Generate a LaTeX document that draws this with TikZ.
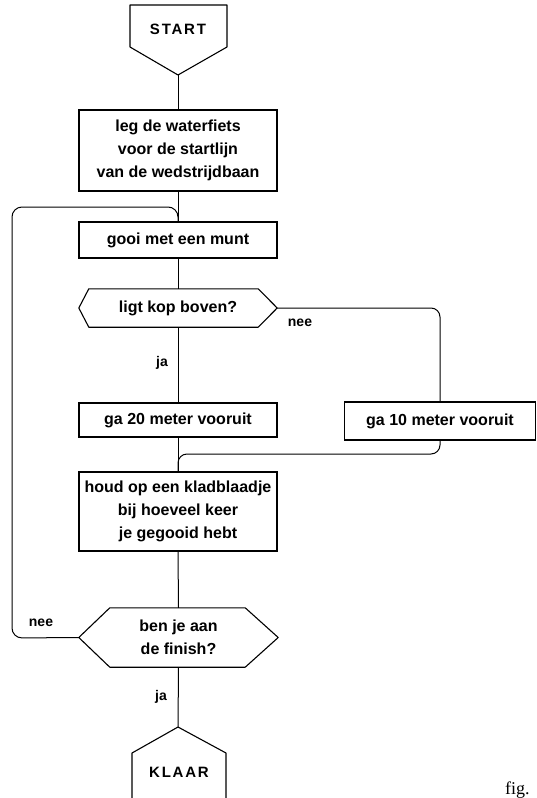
\documentclass[tikz,border=0pt]{standalone}
\usepackage{fontspec}
\setmainfont{Liberation Sans}
\newfontfamily\figfont{Liberation Serif}
\newfontfamily\capsfont[LetterSpace=12]{Liberation Sans}
\begin{document}
\begin{tikzpicture}[x=1pt,y=-1pt,
  flow/.style={line width=1pt, line join=round},
  txt/.style={font=\fontsize{16}{23}\selectfont\bfseries, align=center, inner sep=0pt},
  boxnode/.style={txt, draw, line width=1.1pt, minimum width=198pt},
  lbl/.style={font=\fontsize{14}{16}\selectfont\bfseries, inner sep=0pt}]
\useasboundingbox (0,0) rectangle (536,798);
% terminals
\draw[flow, line width=1.1pt] (130,5) -- (227,5) -- (227,47) -- (178,75) -- (130,47) -- cycle;
\node[txt, font=\fontsize{15}{18}\selectfont\bfseries\capsfont] (start) at (178,29) {START};
\coordinate (starttip) at (178,75);
\draw[flow, line width=1.1pt] (132,798) -- (132,753) -- (178,727) -- (226,753) -- (226,798);
\node[txt, font=\fontsize{15}{18}\selectfont\bfseries\capsfont] (klaar) at (179,772) {KLAAR};
\coordinate (klaartip) at (178,727);
% boxes
\node[boxnode, minimum height=81pt] (b1) at (178,150.5) {leg de waterfiets\\voor de startlijn\\van de wedstrijdbaan};
\node[boxnode, minimum height=36pt] (b2) at (178,240) {gooi met een munt};
\node[txt, minimum width=198pt, minimum height=38pt] (d1) at (178,308) {ligt kop boven?};
\draw[flow, line width=1.1pt] (d1.west) -- ([xshift=10pt]d1.north west) -- ([xshift=-19pt]d1.north east) -- (d1.east) -- ([xshift=-19pt]d1.south east) -- ([xshift=10pt]d1.south west) -- cycle;
\node[boxnode, minimum height=34pt] (b3) at (178,420) {ga 20 meter vooruit};
\node[boxnode, minimum width=191pt, minimum height=38pt] (b4) at (440,421) {ga 10 meter vooruit};
\node[boxnode, minimum height=79pt] (b5) at (178,511.5) {houd op een kladblaadje\\bij hoeveel keer\\je gegooid hebt};
\node[txt, minimum width=199pt, minimum height=59pt] (d2) at (178.5,637.5) {ben je aan\\de finish?};
\draw[flow, line width=1.1pt] (d2.west) -- ([xshift=31pt]d2.north west) -- ([xshift=-33pt]d2.north east) -- (d2.east) -- ([xshift=-33pt]d2.south east) -- ([xshift=31pt]d2.south west) -- cycle;
% connectors
\draw[flow] (starttip) -- (b1.north);
\draw[flow] (b1.south) -- (b2.north);
\draw[flow] (b2.south) -- (d1.north);
\draw[flow] (d1.south) -- (b3.north);
\draw[flow] (b3.south) -- (b5.north);
\draw[flow, rounded corners=9pt] (d1.east) -- (b4.north |- d1.east) -- (b4.north);
\coordinate (merge) at (178,454);
\draw[flow, rounded corners=9pt] (b4.south) -- (b4.south |- merge) -- (merge) -- (b5.north);
\draw[flow] (b5.south) -- (d2.north);
\coordinate (loopbl) at (12,638);
\coordinate (looptl) at (12,207);
\coordinate (looptr) at (178,207);
\draw[flow, rounded corners=10pt] (d2.west) -- (loopbl) -- (looptl) -- (looptr) -- (b2.north);
\draw[flow] (d2.south) -- (klaartip);
% labels
\node[lbl] (ja1) at (162,363) {ja};
\node[lbl] (nee1) at (300,323) {nee};
\node[lbl] (nee2) at (41,623) {nee};
\node[lbl] (ja2) at (161,697) {ja};
\node[anchor=base west, inner sep=0pt, font=\fontsize{18}{20}\selectfont\figfont] (fig) at (505,794) {fig.};
\end{tikzpicture}
\end{document}
